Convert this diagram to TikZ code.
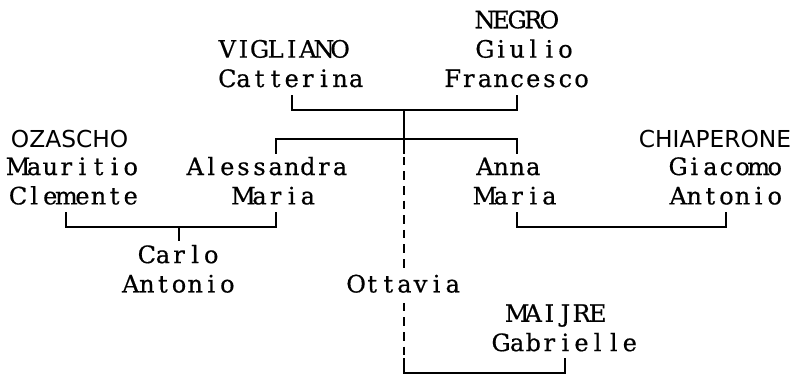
\documentclass[tikz,border=0pt]{standalone}
\usepackage{fontspec}
\newfontfamily\famserif{DejaVu Serif}[FakeBold=0.5]
\newfontfamily\famsans{DejaVu Sans}
\makeatletter
\newcommand\monocells[1]{\@tfor\mc@tok:=#1\do{\makebox[12.075pt][c]{\mc@tok}}}
\makeatother
% grid helpers (pixel units)
\newcommand\gxc[1]{(10+16.1*(#1)+8.05)}
\newcommand\gxl[1]{(10+16.1*(#1))}
\newcommand\gyc[1]{(22.4+29.2*(#1))}
\newcommand\gyb[1]{(28.3+29.35*(#1))}
\tikzset{
  lbl/.style={anchor=base west, inner sep=0pt, outer sep=0pt,
    font=\famserif\fontsize{18pt}{18pt}\selectfont},
  lbls/.style={lbl, font=\famsans\fontsize{17.5pt}{17.5pt}\selectfont},
  tie/.style={line width=1.5pt, line join=miter},
  descent/.style={tie, dash pattern=on 6.45pt off 4.5pt, dash phase=8.7pt}
}
\begin{document}
\begin{tikzpicture}[x=0.75pt, y=-0.75pt]
\path[use as bounding box, fill=white] (0,0) rectangle (799,378);

% names
\node[lbl] (negro) at ({\gxl{29}},{\gyb{0}}) {\monocells{NEGRO}};
\node[lbl] (vigliano) at ({\gxl{13}},{\gyb{1}}) {\monocells{VIGLIANO}};
\node[lbl] (giulio) at ({\gxl{29}},{\gyb{1}}) {\monocells{Giulio}};
\node[lbl] (catterina) at ({\gxl{13}},{\gyb{2}}) {\monocells{Catterina}};
\node[lbl] (francesco) at ({\gxl{27}},{\gyb{2}}) {\monocells{Francesco}};
\node[lbls] (ozascho) at ({\gxl{0}+1},{\gyb{4}+2}) {OZASCHO};
\node[lbls] (chiaperone) at ({\gxl{39}+1},{\gyb{4}+2}) {CHIAPERONE};
\node[lbl] (mauritio) at ({\gxl{0}},{\gyb{5}}) {\monocells{Mauritio}};
\node[lbl] (alessandra) at ({\gxl{11}},{\gyb{5}}) {\monocells{Alessandra}};
\node[lbl] (anna) at ({\gxl{29}},{\gyb{5}}) {\monocells{Anna}};
\node[lbl] (giacomo) at ({\gxl{41}},{\gyb{5}}) {\monocells{Giacomo}};
\node[lbl] (clemente) at ({\gxl{0}},{\gyb{6}}) {\monocells{Clemente}};
\node[lbl] (mariaA) at ({\gxl{14}},{\gyb{6}}) {\monocells{Maria}};
\node[lbl] (mariaB) at ({\gxl{29}},{\gyb{6}}) {\monocells{Maria}};
\node[lbl] (antonioG) at ({\gxl{41}},{\gyb{6}}) {\monocells{Antonio}};
\node[lbl] (carlo) at ({\gxl{8}},{\gyb{8}}) {\monocells{Carlo}};
\node[lbl] (antonioC) at ({\gxl{7}},{\gyb{9}}) {\monocells{Antonio}};
\node[lbl] (ottavia) at ({\gxl{21}},{\gyb{9}}) {\monocells{Ottavia}};
\node[lbl] (maijre) at ({\gxl{31}},{\gyb{10}}) {\monocells{MAIJRE}};
\node[lbl] (gabrielle) at ({\gxl{30}},{\gyb{11}}) {\monocells{Gabrielle}};

% VIGLIANO -- NEGRO union
\coordinate (vn-l) at ({\gxc{17}},{\gyc{3}-14.6});
\coordinate (vn-r) at ({\gxc{31}},{\gyc{3}-14.6});
\coordinate (vn-j) at ({\gxc{24}},{\gyc{3}});
\draw[tie] (vn-l) |- (vn-j) -| (vn-r);

% children bar
\coordinate (kid-l) at ({\gxc{16}},{\gyc{4}+14.6});
\coordinate (kid-r) at ({\gxc{31}},{\gyc{4}+14.6});
\coordinate (kid-j) at ({\gxc{24}},{\gyc{4}});
\coordinate (stem-b) at ({\gxc{24}},{\gyc{4}+14.6});
\draw[tie] (kid-l) |- (kid-j) -| (kid-r);
\draw[tie] (vn-j) -- (stem-b);

% dashed line to Ottavia and on to MAIJRE
\coordinate (ott-t) at ({\gxc{24}},{\gyc{9}-14.6});
\coordinate (ott-b) at ({\gxc{24}},{\gyc{9}+14.6});
\coordinate (om-l) at ({\gxc{24}},{\gyc{12}-14.6});
\coordinate (om-r) at ({\gxc{34}},{\gyc{12}-14.6});
\draw[descent] (stem-b) -- (ott-t);
\draw[descent] (ott-b) -- (om-l);
\draw[tie] (om-l) -- ++(0,14.6) -| (om-r);

% OZASCHO -- Alessandra union
\coordinate (oa-l) at ({\gxc{3}},{\gyc{7}-14.6});
\coordinate (oa-r) at ({\gxc{16}},{\gyc{7}-14.6});
\coordinate (oa-j) at ({\gxc{10}},{\gyc{7}});
\coordinate (oa-k) at ({\gxc{10}},{\gyc{7}+14.6});
\draw[tie] (oa-l) |- (oa-j) -| (oa-r);
\draw[tie] (oa-j) -- (oa-k);

% Anna -- CHIAPERONE union
\coordinate (ac-l) at ({\gxc{31}},{\gyc{7}-14.6});
\coordinate (ac-r) at ({\gxc{44}},{\gyc{7}-14.6});
\draw[tie] (ac-l) -- ++(0,14.6) -| (ac-r);
\end{tikzpicture}
\end{document}
